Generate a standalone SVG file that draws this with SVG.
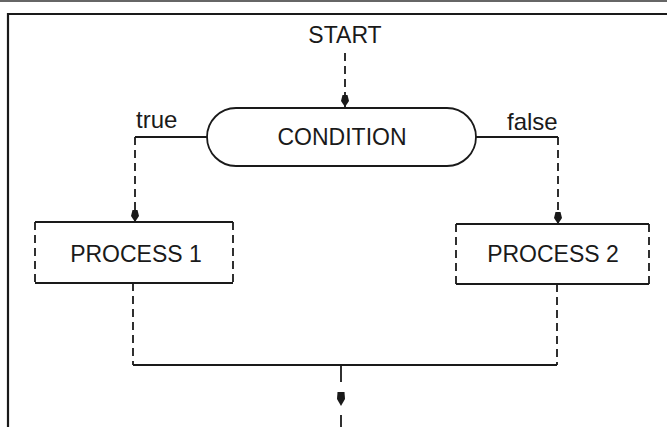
<svg xmlns="http://www.w3.org/2000/svg" width="667" height="427" viewBox="0 0 667 427">
<defs>
<style>
.ln{fill:none;stroke:#1a1a1a;stroke-width:1.8}
.ds{fill:none;stroke:#1a1a1a;stroke-width:1.8;stroke-dasharray:8 5}
.tx{font-family:"Liberation Sans",Arial,sans-serif;font-size:23px;fill:#1a1a1a}
.lb{font-family:"Liberation Sans",Arial,sans-serif;font-size:24px;fill:#1a1a1a}
</style>
<marker id="ah" viewBox="-13 -6 14 12" refX="0" refY="0" markerWidth="14" markerHeight="12" markerUnits="userSpaceOnUse" orient="auto">
<path d="M0,0 L-6,-4 L-12,-2.5 L-12,2.5 L-6,4 Z" fill="#1a1a1a"/>
</marker>
</defs>
<rect width="667" height="427" fill="#fff"/>
<g id="frame">
<line x1="0" y1="1" x2="667" y2="1" stroke="#333" stroke-width="1.5"/>
<path d="M8,427 V14 H667" fill="none" stroke="#1a1a1a" stroke-width="2.2"/>
</g>
<g id="start">
<text class="tx" x="345" y="43" text-anchor="middle">START</text>
</g>
<g id="condition">
<path class="ln" d="M236,108 H447 A29,29 0 0 1 447,166 H236 A29,29 0 0 1 236,108 Z"/>
<text class="tx" x="342" y="145" text-anchor="middle">CONDITION</text>
</g>
<g id="process1">
<path class="ln" d="M35,222 H233 M35,283 H233"/>
<path class="ds" d="M35,222 V283 M233,222 V283"/>
<text class="tx" x="136" y="262" text-anchor="middle">PROCESS 1</text>
</g>
<g id="process2">
<path class="ln" d="M456,224 H649 M456,284 H649"/>
<path class="ds" d="M456,224 V284 M649,224 V284"/>
<text class="tx" x="553" y="262" text-anchor="middle">PROCESS 2</text>
</g>
<g id="connectors">
<line class="ds" x1="345" y1="53" x2="345" y2="107" marker-end="url(#ah)"/>
<text class="lb" x="136" y="128">true</text>
<path class="ln" d="M207,137 H135"/>
<line class="ds" x1="135" y1="137" x2="135" y2="222" marker-end="url(#ah)"/>
<text class="lb" x="507" y="130">false</text>
<path class="ln" d="M476,137 H558"/>
<line class="ds" x1="558" y1="137" x2="558" y2="224" marker-end="url(#ah)"/>
<path class="ds" d="M133,283 V365"/>
<path class="ds" d="M557,284 V365"/>
<path class="ln" d="M133,365 H557"/>
<line class="ln" x1="341" y1="365" x2="341" y2="382"/>
<path d="M341,406 L337,399 L337.5,392 L344.5,392 L345,399 Z" fill="#1a1a1a"/>
<line class="ln" x1="341" y1="415" x2="341" y2="427"/>
</g>
</svg>
